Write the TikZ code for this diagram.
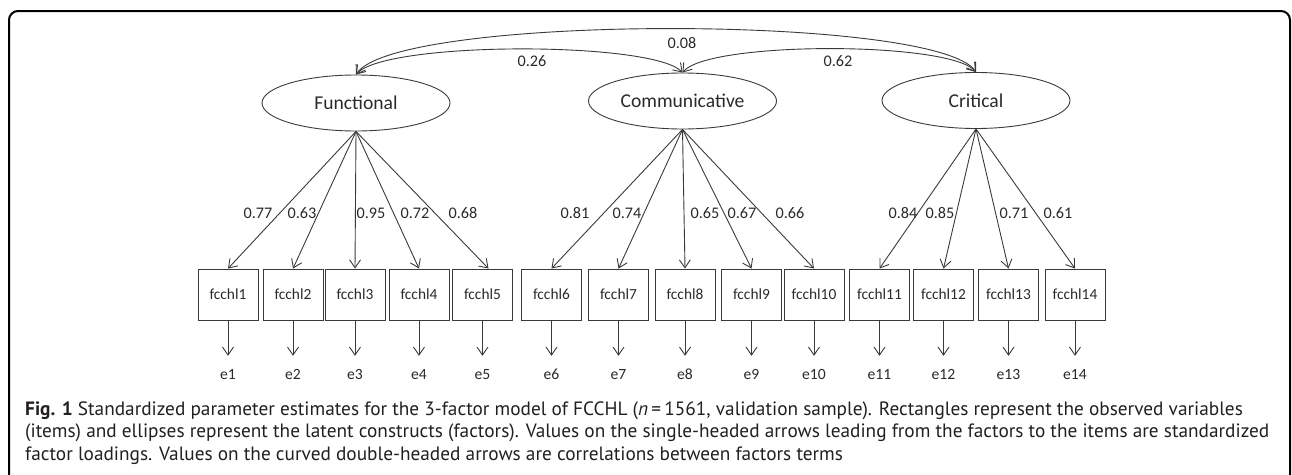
\documentclass[tikz,border=0pt]{standalone}
\usepackage{fontspec}
\setmainfont{Carlito}
\newfontfamily\capfont{PT Sans}
\usetikzlibrary{shapes.geometric,arrows.meta}
\definecolor{lc}{HTML}{3A3A3A}
\definecolor{tc}{HTML}{2A2A2A}
\definecolor{capc}{HTML}{231F20}
\tikzset{
  >={Straight Barb[length=8pt,width=11pt]},
  conn/.style={draw=lc, line width=0.9pt},
  factor/.style={ellipse, draw=lc, line width=0.9pt, minimum width=188pt, minimum height=56pt, inner sep=0pt, text=tc, font=\fontsize{19.6}{20}\selectfont},
  itembox/.style={rectangle, draw=lc, line width=0.9pt, minimum width=60pt, minimum height=51pt, inner sep=0pt, text=tc, font=\fontsize{15.4}{16}\selectfont},
  errlab/.style={text=tc, font=\fontsize{15.6}{16}\selectfont, text height=10pt, text depth=0pt, inner xsep=0pt, inner ysep=13pt},
  numlab/.style={text=tc, font=\fontsize{16.2}{17}\selectfont, inner sep=0pt},
  caplab/.style={text=capc, font=\capfont\fontsize{19.3}{22}\selectfont, inner sep=0pt, anchor=base west},
  frame/.style={draw=black, line width=2pt, rounded corners=9pt}
}
\begin{document}
\begin{tikzpicture}[x=1pt,y=-1pt]
\useasboundingbox (0,0) rectangle (1292,474);
\draw[frame] (9,11) rectangle (1290,520);

% factors
\node[factor] (F) at (356,103) {Functional};
\node[factor] (C) at (682.5,101) {Communicative};
\node[factor] (K) at (976,100.5) {Critical};

% correlations
\draw[conn,<->] (F.north) .. controls (385,41) and (653,41) .. (C.north);
\draw[conn,<->] (F.north) .. controls (395,14) and (937,14) .. (K.north);
\draw[conn,<->] (C.north) .. controls (708,41) and (950,41) .. (K.north);
\node[numlab] (r1) at (532,61) {0.26};
\node[numlab] (r2) at (682,43) {0.08};
\node[numlab] (r3) at (838,61) {0.62};

% items and errors
\foreach \i/\x in {1/228,2/293,3/355,4/419,5/482.5,6/551.5,7/618.5,8/685,9/751.5,10/814,11/879.5,12/943.5,13/1008.5,14/1075}{
  \node[itembox] (b\i) at (\x,294.5) {fcchl\i};
  \node[errlab] (e\i) at (\x,374) {e\i};
  \draw[conn,->] (b\i.south) -- (e\i.north);
}

% loadings
\foreach \i in {1,2,3,4}{\draw[conn,->] (F.south) -- (b\i.north);}
\draw[conn,->] (F.south) -- ([xshift=6pt]b5.north);
\foreach \i in {6,...,10}{\draw[conn,->] (C.south) -- (b\i.north);}
\foreach \i in {11,...,14}{\draw[conn,->] (K.south) -- (b\i.north);}

\foreach \v/\x [count=\n] in {0.77/258,0.63/302,0.95/371,0.72/415,0.68/463,0.81/575,0.74/627,0.65/705,0.67/742,0.66/790,0.84/903,0.85/940,0.71/1014,0.61/1058}{
  \node[numlab] (l\n) at (\x,213) {\v};
}

% caption
\node[caplab] (cap1) at (25,415) {\textbf{Fig. 1} Standardized parameter estimates for the 3-factor model of FCCHL (\textit{n}\,=\,1561, validation sample). Rectangles represent the observed variables};
\node[caplab] (cap2) at (25,437.5) {(items) and ellipses represent the latent constructs (factors). Values on the single-headed arrows leading from the factors to the items are standardized};
\node[caplab] (cap3) at (25,460) {factor loadings. Values on the curved double-headed arrows are correlations between factors terms};
\end{tikzpicture}
\end{document}
